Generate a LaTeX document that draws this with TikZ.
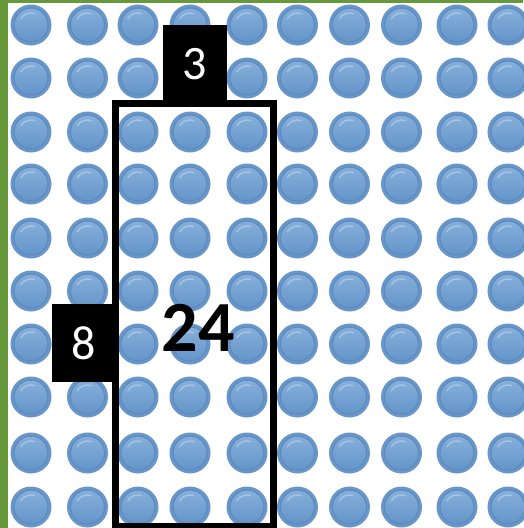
\documentclass[tikz,border=0pt]{standalone}
\usepackage{fontspec}
\setmainfont{Carlito}
\definecolor{gbar}{HTML}{66993A}
\definecolor{dotout}{HTML}{6896C9}
\definecolor{dotring}{HTML}{5A8ABF}
\definecolor{dottop}{HTML}{86AFDA}
\definecolor{dotbot}{HTML}{6495C9}
\begin{document}
\begin{tikzpicture}[x=1pt,y=-1pt,
  dot/.style={circle,minimum size=41pt,inner sep=0pt,fill=dotout},
  labelbox/.style={fill=black,text=white,inner sep=0pt,font=\fontsize{48}{48}\selectfont},
  frame/.style={draw=black,line width=7pt,line join=miter}]
\useasboundingbox (0,0) rectangle (523,528);
\fill[white] (0,0) rectangle (523,528);
\fill[gbar] (0,0) rectangle (523,3);
\fill[gbar] (0,0) rectangle (8,528);
\foreach \cx [count=\i] in {31,87.5,138,190,247,297.5,349.5,401.5,457,508}{
  \foreach \cy [count=\j] in {25,78,132,184,238,291,344,397,453,507}{
    \node[dot] (d\i-\j) at (\cx,\cy) {};
    \shade[top color=dottop,bottom color=dotbot] (\cx,\cy) circle (16.5);
    \draw[dotring,line width=1pt] (\cx,\cy) circle (17);
    \draw[white,opacity=0.3,line width=1.5pt] ([shift={(210:12)}]\cx,\cy) arc (210:290:12);
  }
}
\node[labelbox,minimum width=64pt,minimum height=78pt] (three) at (195,64) {3};
\node[labelbox,minimum width=63pt,minimum height=78pt] (eight) at (83.5,343) {8};
\coordinate (tl) at (115.5,103);
\coordinate (br) at (273.5,526);
\draw[frame] (tl) rectangle (br);
\node[font=\bfseries\fontsize{72}{72}\selectfont,inner sep=0pt] (prod) at (198,328) {24};
\end{tikzpicture}
\end{document}
